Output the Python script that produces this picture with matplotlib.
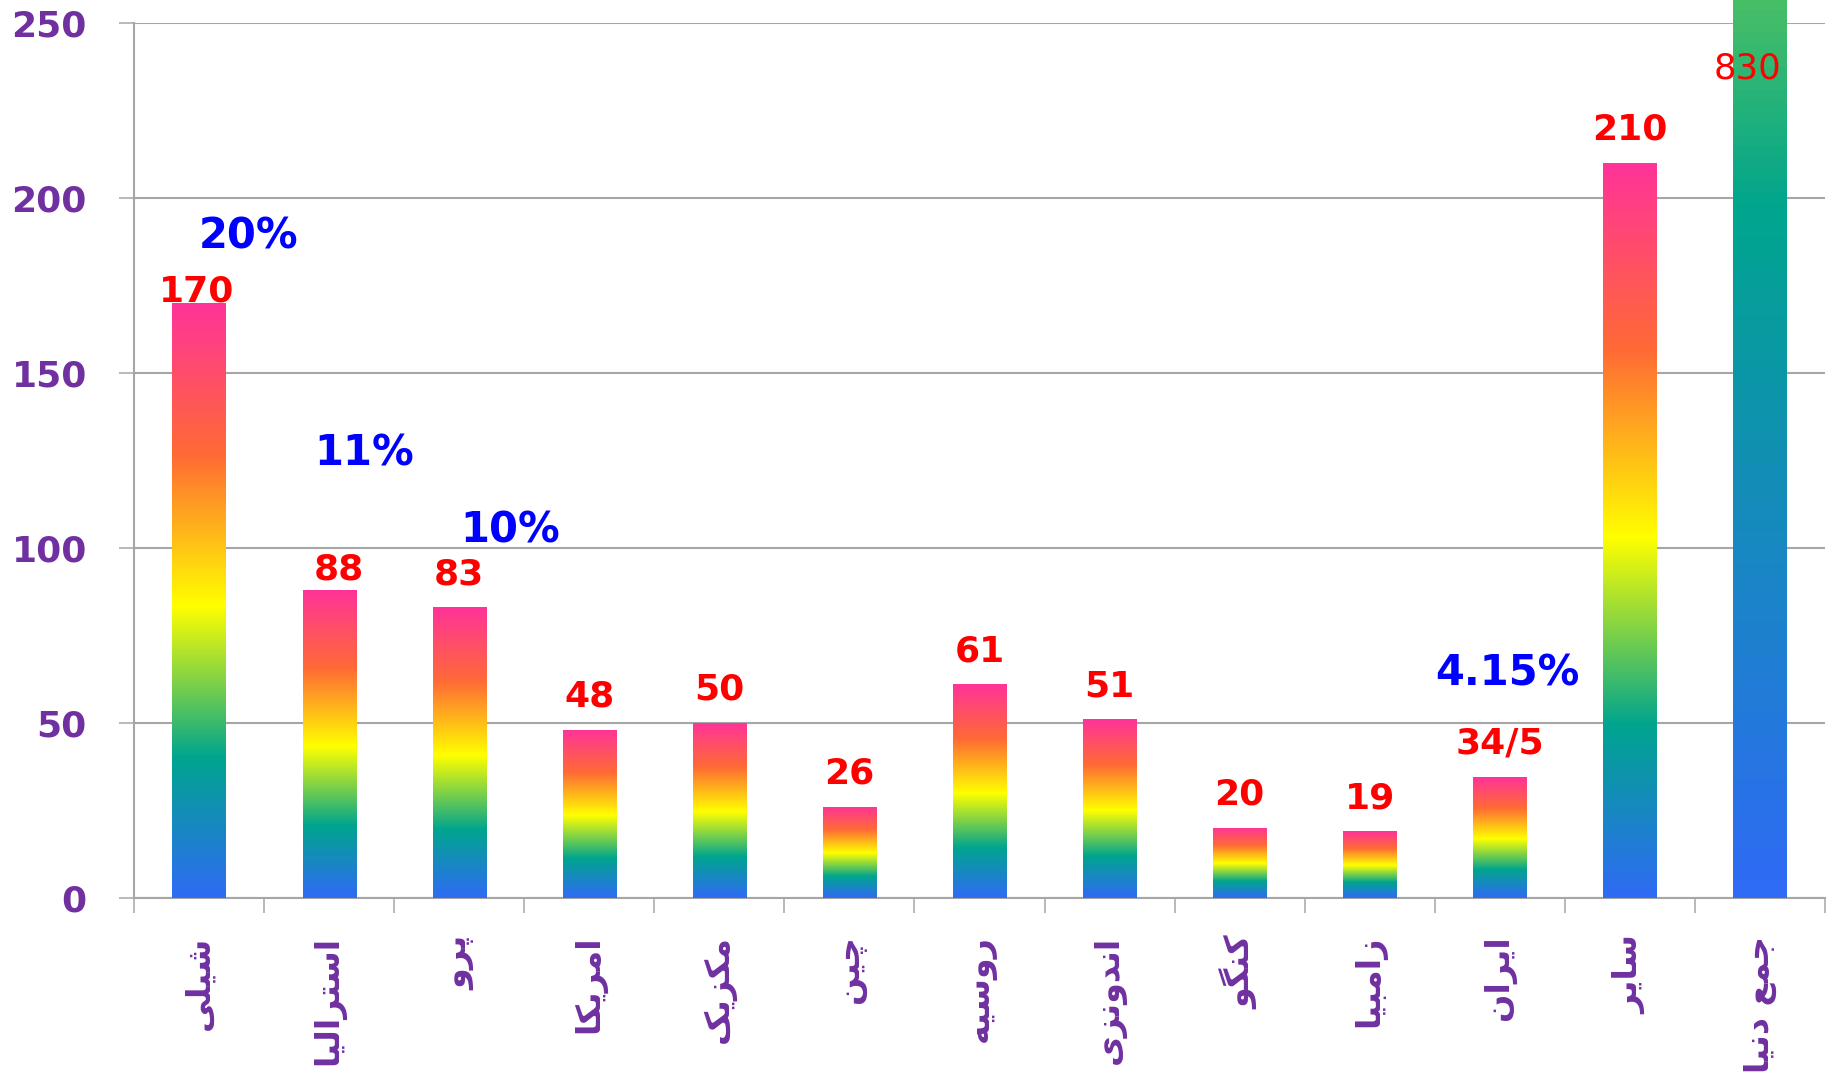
import numpy as np
import matplotlib
matplotlib.use('Agg')
import matplotlib.pyplot as plt
from matplotlib.colors import LinearSegmentedColormap

# data
countries = ['شیلی', 'استرالیا', 'پرو', 'امریکا', 'مکزیک', 'چین', 'روسیه',
             'اندونزی', 'کنگو', 'زامبیا', 'ایران', 'سایر', 'جمع دنیا']
values = [170, 88, 83, 48, 50, 26, 61, 51, 20, 19, 34.5, 210, 830]
value_texts = ['170', '88', '83', '48', '50', '26', '61', '51', '20', '19', '34/5', '210', '830']
share_texts = ['20%', '11%', '10%', '4.15%']
share_pos = [(0.38, 189), (1.27, 127), (2.39, 105), (10.06, 64)]

# label offsets in points (dx, dy) above bar top
label_off = [(-2, 8), (7, 15), (0, 24), (0, 24), (0, 24), (0, 24), (0, 24),
             (0, 24), (0, 24), (0, 24), (0, 24), (0, 24)]

PURPLE = '#7030A0'
GRID = '#A6A6A6'

# crude arabic shaping (matplotlib has no bidi/shaping)
FORMS = {
    'ا': ('\uFE8D', '\uFE8E', None, None),
    'ب': ('\uFE8F', '\uFE90', '\uFE91', '\uFE92'),
    'ت': ('\uFE95', '\uFE96', '\uFE97', '\uFE98'),
    'ج': ('\uFE9D', '\uFE9E', '\uFE9F', '\uFEA0'),
    'د': ('\uFEA9', '\uFEAA', None, None),
    'ر': ('\uFEAD', '\uFEAE', None, None),
    'ز': ('\uFEAF', '\uFEB0', None, None),
    'س': ('\uFEB1', '\uFEB2', '\uFEB3', '\uFEB4'),
    'ش': ('\uFEB5', '\uFEB6', '\uFEB7', '\uFEB8'),
    'ع': ('\uFEC9', '\uFECA', '\uFECB', '\uFECC'),
    'ل': ('\uFEDD', '\uFEDE', '\uFEDF', '\uFEE0'),
    'م': ('\uFEE1', '\uFEE2', '\uFEE3', '\uFEE4'),
    'ن': ('\uFEE5', '\uFEE6', '\uFEE7', '\uFEE8'),
    'ه': ('\uFEE9', '\uFEEA', '\uFEEB', '\uFEEC'),
    'و': ('\uFEED', '\uFEEE', None, None),
    'پ': ('\uFB56', '\uFB57', '\uFB58', '\uFB59'),
    'چ': ('\uFB7A', '\uFB7B', '\uFB7C', '\uFB7D'),
    'ک': ('\uFB8E', '\uFB8F', '\uFB90', '\uFB91'),
    'گ': ('\uFB92', '\uFB93', '\uFB94', '\uFB95'),
    'ی': ('\uFBFC', '\uFBFD', '\uFBFE', '\uFBFF'),
}


def shape(word):
    out = []
    for i, ch in enumerate(word):
        f = FORMS.get(ch)
        if f is None:
            out.append(ch)
            continue
        prev = word[i - 1] if i > 0 else None
        nxt = word[i + 1] if i + 1 < len(word) else None
        jp = prev in FORMS and FORMS[prev][2] is not None
        jn = nxt in FORMS and f[2] is not None
        if jp and jn:
            out.append(f[3])
        elif jp:
            out.append(f[1])
        elif jn:
            out.append(f[2])
        else:
            out.append(f[0])
    return ''.join(reversed(out))


cmap = LinearSegmentedColormap.from_list('bars', [
    (0.0, '#2F6BF5'), (0.235, '#00A58E'), (0.49, '#FFFF00'),
    (0.745, '#FF6A35'), (1.0, '#FF3399')])
grad = np.linspace(0, 1, 256).reshape(-1, 1)

fig = plt.figure(figsize=(18.29, 10.73), dpi=100)
ax = fig.add_axes([0.0733, 0.1631, 0.9245, 0.8155])

x = np.arange(len(values))
bars = ax.bar(x, values, width=0.41, color='none', edgecolor='none', zorder=3)
for b in bars:
    x0, w, h = b.get_x(), b.get_width(), b.get_height()
    im = ax.imshow(grad, cmap=cmap, origin='lower', aspect='auto',
                   extent=[x0, x0 + w, 0, h], zorder=3, interpolation='bilinear')
    im.set_clip_path(b)

ax.set_xlim(-0.5, len(values) - 0.5)
ax.set_ylim(0, 250)

for i in range(len(values) - 1):
    dx, dy = label_off[i]
    ax.annotate(value_texts[i], (x[i], values[i]), xytext=(dx, dy),
                textcoords='offset points', ha='center', va='center',
                color='red', fontsize=26, fontweight='bold', zorder=5)
# last bar goes off the chart, label sits inside it
ax.annotate(value_texts[-1], (x[-1], 250), xytext=(-9, -33),
            textcoords='offset points', ha='center', va='center',
            color='red', fontsize=25.5, zorder=5)

for t, (px, py) in zip(share_texts, share_pos):
    ax.text(px, py, t, ha='center', va='center', color='blue',
            fontsize=30, fontweight='bold', zorder=5)

ax.set_yticks(np.arange(0, 251, 50))
ax.yaxis.grid(True, color=GRID, linewidth=1.5)
ax.set_axisbelow(True)
ax.tick_params(axis='y', length=11, width=1.1, color=GRID, pad=23,
               labelsize=26, labelcolor=PURPLE)
for lab in ax.get_yticklabels():
    lab.set_fontweight('bold')

ax.set_xticks(x)
ax.set_xticklabels([shape(c) for c in countries], rotation=90,
                   fontsize=24, fontweight='bold', color=PURPLE,
                   family=['DejaVu Sans'])
ax.set_xticks(np.arange(-0.5, len(values), 1), minor=True)
ax.tick_params(axis='x', which='major', length=0, pad=27)
ax.tick_params(axis='x', which='minor', length=11, width=1.1, color=GRID)

for s in ['top', 'right']:
    ax.spines[s].set_visible(False)
for s in ['left', 'bottom']:
    ax.spines[s].set_color(GRID)
    ax.spines[s].set_linewidth(1.5)

fig.savefig('out.png', dpi=100)
